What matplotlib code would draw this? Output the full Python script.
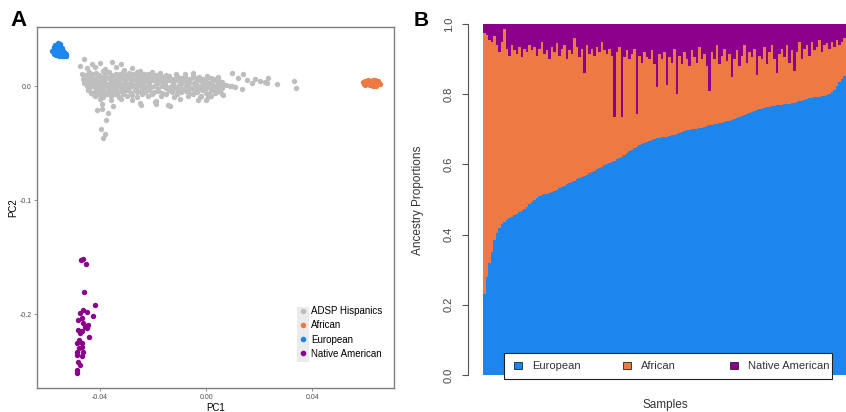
import numpy as np
import matplotlib
matplotlib.use("Agg")
import matplotlib.pyplot as plt
from matplotlib.patches import Rectangle
from matplotlib.lines import Line2D

plt.rcParams['font.family'] = ['Liberation Sans', 'DejaVu Sans']

'''Panel A data (PC1, PC2)'''
'''======================'''
hisp_pc1 = [
    -0.046, -0.043, -0.040, -0.0355, -0.032,
    -0.0475, -0.045, -0.042, -0.038, -0.034, -0.031, -0.028, -0.025,
    -0.047, -0.044, -0.0415, -0.039, -0.0365, -0.034, -0.0315, -0.029, -0.026, -0.0235, -0.0205, -0.0175, -0.008, -0.005,
    -0.0455, -0.043, -0.0405, -0.038, -0.035, -0.0325, -0.030, -0.0275, -0.025, -0.022, -0.019, -0.015, -0.0115,
    -0.046, -0.0435, -0.041, -0.0385, -0.036, -0.0335, -0.031, -0.0285, -0.026, -0.0235, -0.0205, -0.017, -0.014, -0.011, -0.008, -0.005, -0.0025, 0.0005,
    -0.0465, -0.0445, -0.042, -0.0395, -0.037, -0.0345, -0.032, -0.0295, -0.027, -0.0245, -0.022, -0.0185, -0.0155, -0.0125, -0.0095, -0.0065, -0.004, -0.001, 0.002,
    -0.0455, -0.043, -0.0405, -0.038, -0.0355, -0.033, -0.0305, -0.028, -0.0255, -0.023, -0.020, -0.017, -0.014, -0.0115, -0.009, -0.006, -0.003, 0.0, 0.003, 0.005,
    -0.046, -0.0435, -0.041, -0.0385, -0.036, -0.0335, -0.031, -0.0285, -0.026, -0.0235, -0.0215, -0.0185, -0.0155, -0.0125, -0.01, -0.0075, -0.0045, -0.0015, 0.0015, 0.0045,
    -0.0445, -0.042, -0.0395, -0.037, -0.0345, -0.032, -0.0295, -0.027, -0.0245, -0.0215, -0.0185, -0.0155, -0.0125, -0.0095, -0.0065, -0.0035, -0.0005, 0.0025, 0.0055, 0.0075,
    -0.045, -0.043, -0.0405, -0.038, -0.0355, -0.033, -0.0305, -0.028, -0.0255, -0.023, -0.0195, -0.0165, -0.0135, -0.0105, -0.0075, -0.0045, -0.0015, 0.0015, 0.0045,
    -0.044, -0.0415, -0.039, -0.0365, -0.034, -0.0315, -0.029, -0.0265, -0.024, -0.021, -0.018, -0.015, -0.012, -0.009, -0.006, -0.003, 0.0, 0.003, 0.006,
    -0.0445, -0.042, -0.0395, -0.037, -0.0345, -0.032, -0.0295, -0.027, -0.0245, -0.0215, -0.018, -0.014, -0.011, -0.0075, -0.0045, -0.0015, 0.002,
    -0.0435, -0.041, -0.0385, -0.036, -0.0335, -0.031, -0.0285, -0.026, -0.023, -0.0195, -0.0165, -0.013, -0.0095, -0.0065, -0.0035, 0.0, 0.0035,
    -0.0425, -0.040, -0.0375, -0.0345, -0.0315, -0.028, -0.024, -0.0205, -0.015, -0.011, -0.005, 0.001,
    -0.042, -0.039, -0.036, -0.033, -0.030, -0.026, -0.022, -0.017, -0.012, -0.007, -0.002, 0.002,
    -0.040, -0.036, -0.032, -0.028, -0.019, -0.010, -0.003, 0.0,
    -0.0412, -0.0394, -0.0369, -0.0377, -0.0396, -0.0380, -0.0390, -0.0394, -0.0350, -0.0249, -0.0245, -0.0192, -0.0189, -0.0142, -0.0136,
    0.0003, 0.0028, 0.0046, 0.0059, 0.0040, 0.0053, 0.0028, 0.0009, -0.0023, 0.0065, 0.0091,
    0.0097, 0.0122, 0.0141, 0.0154, 0.0185, 0.0204, 0.0235, 0.0231, 0.0267, 0.0330, 0.0340,
    0.0097, 0.0109, 0.0135, 0.0172, 0.0223, 0.0065, 0.0059, 0.0040,
]
hisp_pc2 = [
    0.0235, 0.019, 0.0205, 0.0215, 0.0195,
    0.0175, 0.0155, 0.0165, 0.015, 0.017, 0.0145, 0.016, 0.0135,
    0.011, 0.0125, 0.0115, 0.013, 0.012, 0.0105, 0.0125, 0.0115, 0.012, 0.0108, 0.0122, 0.0112, 0.0102, 0.0118,
    0.0100, 0.0106, 0.0098, 0.0104, 0.0101, 0.0107, 0.0097, 0.0103, 0.0099, 0.0105, 0.0101, 0.0096, 0.0102,
    0.008, 0.009, 0.0078, 0.0092, 0.0085, 0.0088, 0.0075, 0.0095, 0.0082, 0.0087, 0.0079, 0.0091, 0.0084, 0.0089, 0.0076, 0.0093, 0.0081, 0.0086,
    0.0066, 0.0071, 0.0064, 0.0069, 0.0073, 0.0065, 0.007, 0.0067, 0.0062, 0.0072, 0.0068, 0.0065, 0.007, 0.0063, 0.0069, 0.0066, 0.0071, 0.0064, 0.0068,
    0.0048, 0.0055, 0.0044, 0.0058, 0.005, 0.0046, 0.0057, 0.0049, 0.0053, 0.0043, 0.0056, 0.0047, 0.0054, 0.0051, 0.0045, 0.0059, 0.005, 0.0044, 0.0056, 0.0048,
    0.0031, 0.0036, 0.0029, 0.0035, 0.0032, 0.0038, 0.003, 0.0034, 0.0028, 0.0037, 0.0033, 0.0031, 0.0035, 0.003, 0.0036, 0.0032, 0.0029, 0.0034, 0.0031, 0.0035,
    0.0012, 0.0019, 0.0008, 0.0021, 0.0015, 0.001, 0.0022, 0.0013, 0.0018, 0.0007, 0.002, 0.0011, 0.0017, 0.0014, 0.0023, 0.0009, 0.0016, 0.0012, 0.0019, 0.001,
    -0.0003, 0.0002, -0.0006, 0.0, -0.0004, 0.0003, -0.0007, -0.0001, 0.0001, -0.0005, -0.0002, 0.0002, -0.0006, -0.0003, 0.0001, -0.0004, -0.0002, 0.0, -0.0005,
    -0.0022, -0.0015, -0.0026, -0.0018, -0.0024, -0.0013, -0.0021, -0.0017, -0.0027, -0.0016, -0.0023, -0.0019, -0.0014, -0.0025, -0.0018, -0.0022, -0.0016, -0.0024, -0.002,
    -0.0036, -0.0041, -0.0034, -0.004, -0.0037, -0.0043, -0.0035, -0.0039, -0.0042, -0.0036, -0.004, -0.0034, -0.0038, -0.0041, -0.0035, -0.0039, -0.0037,
    -0.0058, -0.0049, -0.0062, -0.0053, -0.0057, -0.0047, -0.006, -0.0051, -0.0056, -0.0048, -0.0061, -0.0054, -0.005, -0.0059, -0.0052, -0.0057, -0.0063,
    -0.0071, -0.0075, -0.0069, -0.0074, -0.007, -0.0076, -0.0072, -0.0068, -0.0074, -0.007, -0.0073, -0.0071,
    -0.0088, -0.0095, -0.0083, -0.0092, -0.0086, -0.0097, -0.009, -0.0085, -0.0094, -0.0089, -0.0091, -0.0084,
    -0.0118, -0.0125, -0.0113, -0.0121, -0.0128, -0.0117, -0.0124, -0.012,
    -0.021, -0.0205, -0.0234, -0.0298, -0.0377, -0.0424, -0.0459, -0.0158, -0.0175, -0.0152, -0.0164, -0.0138, -0.0160, -0.0167, -0.0175,
    0.0082, 0.0059, 0.0076, 0.0038, 0.0, -0.0035, -0.0023, -0.0094, -0.0094, -0.0079, 0.0,
    0.0111, 0.0073, 0.0102, 0.0053, 0.0061, 0.0044, 0.0067, 0.0023, 0.0015, 0.0044, -0.0015,
    0.0003, -0.0006, -0.0029, 0.0023, 0.0038, 0.0009, -0.0073, -0.005,
]

afr_pc1 = [0.0595, 0.0605, 0.0615, 0.0625, 0.0635, 0.0645, 0.0652, 0.0600, 0.0612, 0.0622, 0.0632,
           0.0642, 0.0650, 0.0618, 0.0630, 0.0640, 0.0610, 0.0628, 0.0638, 0.0648, 0.0592, 0.0655,
           0.0603, 0.0620, 0.0637, 0.0608, 0.0645, 0.0625, 0.0598, 0.0633]
afr_pc2 = [0.002, 0.003, 0.004, 0.0045, 0.004, 0.0038, 0.003, 0.001, 0.0015, 0.002, 0.0015,
           0.001, 0.0015, 0.0005, 0.0002, 0.0003, 0.005, 0.0055, 0.0052, 0.0045, 0.0035, 0.002,
           0.0025, 0.003, 0.0028, 0.004, 0.0025, 0.001, 0.0045, 0.0048]

eur_pc1 = [-0.0570, -0.0560, -0.0550, -0.0575, -0.0565, -0.0555, -0.0545, -0.0580, -0.0568, -0.0557, -0.0547, -0.0538,
           -0.0572, -0.0560, -0.0550, -0.0540, -0.0530, -0.0545, -0.0535, -0.0555, -0.0530, -0.0562, -0.0552, -0.0540,
           -0.0575, -0.0565, -0.0550, -0.0558, -0.0545, -0.0552, -0.0542, -0.0535, -0.0565]
eur_pc2 = [0.036, 0.0375, 0.0365, 0.033, 0.034, 0.0345, 0.033, 0.031, 0.0305, 0.031, 0.030, 0.0295,
           0.0285, 0.0285, 0.0275, 0.028, 0.0285, 0.026, 0.0265, 0.0265, 0.026, 0.0355, 0.032, 0.031,
           0.0345, 0.0325, 0.0335, 0.029, 0.0285, 0.0355, 0.0275, 0.0275, 0.027]

nat_pc1 = [-0.0473, -0.0463, -0.0453, -0.0459, -0.0421, -0.0425, -0.0475, -0.0463, -0.0448, -0.0469, -0.0444,
           -0.0457, -0.0482, -0.0469, -0.0442, -0.0475, -0.0488, -0.0469, -0.0478, -0.0486, -0.0469, -0.0488,
           -0.0482, -0.0475, -0.0488, -0.0486, -0.0469, -0.0463, -0.0478, -0.0450, -0.0465, -0.0482]
nat_pc2 = [-0.1526, -0.152, -0.1564, -0.181, -0.192, -0.202, -0.1994, -0.1965, -0.1985, -0.2038, -0.2096,
           -0.2111, -0.214, -0.2146, -0.2199, -0.217, -0.2258, -0.2251, -0.2301, -0.233, -0.2368, -0.236,
           -0.2418, -0.2447, -0.2491, -0.2515, -0.2287, -0.233, -0.2228, -0.2126, -0.2082, -0.2053]

'''Panel B data (per-sample ancestry, sorted by European)'''
'''======================================================'''
european = [
    0.23, 0.28, 0.32, 0.35, 0.385, 0.405, 0.42, 0.43, 0.437, 0.442,
    0.446, 0.45, 0.455, 0.459, 0.463, 0.468, 0.474, 0.48, 0.487, 0.494,
    0.50, 0.505, 0.511, 0.514, 0.516, 0.517, 0.519, 0.521, 0.524, 0.528,
    0.532, 0.535, 0.539, 0.543, 0.546, 0.55, 0.553, 0.557, 0.561, 0.564,
    0.568, 0.571, 0.575, 0.578, 0.582, 0.586, 0.59, 0.593, 0.597, 0.600,
    0.603, 0.606, 0.61, 0.614, 0.618, 0.622, 0.627, 0.632, 0.637, 0.642,
    0.647, 0.651, 0.655, 0.659, 0.662, 0.665, 0.668, 0.67, 0.672, 0.674,
    0.676, 0.677, 0.678, 0.679, 0.681, 0.683, 0.685, 0.688, 0.69, 0.692,
    0.694, 0.697, 0.699, 0.70, 0.701, 0.702, 0.703, 0.705, 0.707, 0.709,
    0.711, 0.713, 0.715, 0.716, 0.718, 0.719, 0.721, 0.723, 0.724, 0.726,
    0.729, 0.732, 0.736, 0.739, 0.741, 0.744, 0.747, 0.75, 0.752, 0.755,
    0.757, 0.759, 0.761, 0.763, 0.765, 0.766, 0.767, 0.768, 0.769, 0.77,
    0.771, 0.772, 0.773, 0.775, 0.776, 0.778, 0.78, 0.782, 0.784, 0.786,
    0.788, 0.79, 0.791, 0.792, 0.793, 0.794, 0.795, 0.797, 0.801, 0.806,
    0.813, 0.823, 0.835, 0.844, 0.852, 0.86, 0.868, 0.878, 0.89, 0.905,
]
native = [
    0.025, 0.03, 0.045, 0.05, 0.035, 0.06, 0.08, 0.05, 0.015, 0.07,
    0.09, 0.06, 0.075, 0.085, 0.065, 0.095, 0.07, 0.08, 0.06, 0.075,
    0.065, 0.09, 0.07, 0.05, 0.085, 0.075, 0.1, 0.065, 0.08, 0.055,
    0.09, 0.07, 0.06, 0.1, 0.075, 0.085, 0.04, 0.065, 0.095, 0.07,
    0.14, 0.06, 0.085, 0.07, 0.09, 0.065, 0.08, 0.05, 0.075, 0.085,
    0.07, 0.09, 0.265, 0.08, 0.065, 0.265, 0.095, 0.075, 0.1, 0.085,
    0.07, 0.255, 0.09, 0.11, 0.08, 0.095, 0.1, 0.075, 0.115, 0.18,
    0.085, 0.1, 0.08, 0.175, 0.095, 0.11, 0.07, 0.2, 0.09, 0.115,
    0.08, 0.1, 0.12, 0.075, 0.095, 0.11, 0.065, 0.1, 0.085, 0.12,
    0.19, 0.08, 0.1, 0.06, 0.115, 0.09, 0.07, 0.105, 0.085, 0.15,
    0.1, 0.075, 0.12, 0.09, 0.06, 0.11, 0.08, 0.095, 0.07, 0.145,
    0.09, 0.1, 0.065, 0.115, 0.08, 0.06, 0.1, 0.14, 0.085, 0.07,
    0.095, 0.06, 0.11, 0.075, 0.135, 0.08, 0.05, 0.1, 0.07, 0.06,
    0.09, 0.05, 0.075, 0.065, 0.045, 0.08, 0.06, 0.055, 0.07, 0.05,
    0.065, 0.045, 0.06, 0.05, 0.04, 0.055, 0.045, 0.05, 0.04, 0.035,
]

c_gray = '#BEBEBE'
c_afr = '#EE7942'
c_eur = '#1C86EE'
c_nat = '#8B008B'

fig = plt.figure(figsize=(8.46, 4.12), dpi=100)

'''Panel A: PCA'''
axA = fig.add_axes([37/846, 1-388/412, 357/846, 361/412])
ms = 15
axA.scatter(hisp_pc1, hisp_pc2, s=ms, color=c_gray, linewidths=0)
axA.scatter(afr_pc1, afr_pc2, s=ms, color=c_afr, linewidths=0)
axA.scatter(eur_pc1, eur_pc2, s=ms, color=c_eur, linewidths=0)
axA.scatter(nat_pc1, nat_pc2, s=ms, color=c_nat, linewidths=0)
axA.set_xlim(-0.0638, 0.0709)
axA.set_ylim(-0.2649, 0.0518)
axA.set_xticks([-0.04, 0.0, 0.04])
axA.set_xticklabels(['-0.04', '0.00', '0.04'])
axA.set_yticks([0.0, -0.1, -0.2])
axA.set_yticklabels(['0.0', '-0.1', '-0.2'])
axA.tick_params(labelsize=5, colors='#7F7F7F', labelcolor='#4D4D4D', length=2, width=0.6, pad=2)
for sp in axA.spines.values():
    sp.set_color('#7F7F7F')
    sp.set_linewidth(1.0)
axA.set_xlabel('PC1', fontsize=7, labelpad=2)
axA.set_ylabel('PC2', fontsize=7, labelpad=1)

# legend with grey key background
axA.add_patch(Rectangle((0.728, 0.072), 0.034, 0.152, transform=axA.transAxes,
                        facecolor='#EBEBEB', edgecolor='none', zorder=3))
handles = [Line2D([], [], marker='o', ls='', color=c, markersize=3)
           for c in [c_gray, c_afr, c_eur, c_nat]]
legA = axA.legend(handles, ['ADSP Hispanics', 'African', 'European', 'Native American'],
                  loc='upper left', bbox_to_anchor=(0.728, 0.226), frameon=False,
                  fontsize=7, handlelength=1.2, handletextpad=0.25, labelspacing=0.42,
                  borderpad=0, borderaxespad=0)
legA.set_zorder(4)

'''Panel B: ancestry barplot'''
n = len(european)
axB = fig.add_axes([468/846, 1-389/412, 405/846, 379/412])
x = np.arange(n)
eur = np.array(european)
nat = np.array(native)
afr = 1 - eur - nat
axB.bar(x, eur, width=1, align='edge', color=c_eur, linewidth=0, antialiased=False)
axB.bar(x, afr, width=1, bottom=eur, align='edge', color=c_afr, linewidth=0, antialiased=False)
axB.bar(x, nat, width=1, bottom=eur+afr, align='edge', color=c_nat, linewidth=0, antialiased=False)
axB.set_xlim(-0.04*n, 1.04*n)
axB.set_ylim(-0.04, 1.04)
for s in ['top', 'right', 'bottom']:
    axB.spines[s].set_visible(False)
axB.spines['left'].set_bounds(0, 1)
axB.spines['left'].set_color('#555555')
axB.set_xticks([])
axB.set_yticks([0.0, 0.2, 0.4, 0.6, 0.8, 1.0])
axB.set_yticklabels(['0.0', '0.2', '0.4', '0.6', '0.8', '1.0'], rotation=90, va='center')
axB.tick_params(axis='y', labelsize=8, colors='#555555', labelcolor='#444444', length=4, pad=6)
fig.text(418/846, 1-200/412, 'Ancestry Proportions', rotation=90, fontsize=8.5,
         color='#333333', ha='center', va='center')
fig.text(665/846, 1-405/412, 'Samples', fontsize=8.5, color='#333333', ha='center', va='center')

# legend box along the bottom
axB.add_patch(Rectangle((0.0889, 0.0264), 0.81, 0.0686, transform=axB.transAxes,
                        facecolor='white', edgecolor='#222222', linewidth=0.8, zorder=3))
for lx, tx, c, lab in [(0.1136, 0.158, c_eur, 'European'), (0.383, 0.427, c_afr, 'African'),
                       (0.647, 0.691, c_nat, 'Native American')]:
    axB.add_patch(Rectangle((lx, 0.052), 0.0198, 0.019, transform=axB.transAxes,
                            facecolor=c, edgecolor='#222222', linewidth=0.6, zorder=4))
    axB.text(tx, 0.0605, lab, transform=axB.transAxes, fontsize=8, color='#333333',
             va='center', ha='left', zorder=5)

fig.text(10/846, 1-21/412, 'A', fontsize=16, fontweight='bold', va='center', ha='left')
fig.text(414/846, 1-20/412, 'B', fontsize=15, fontweight='bold', va='center', ha='left')

fig.savefig('out.png', dpi=100)
